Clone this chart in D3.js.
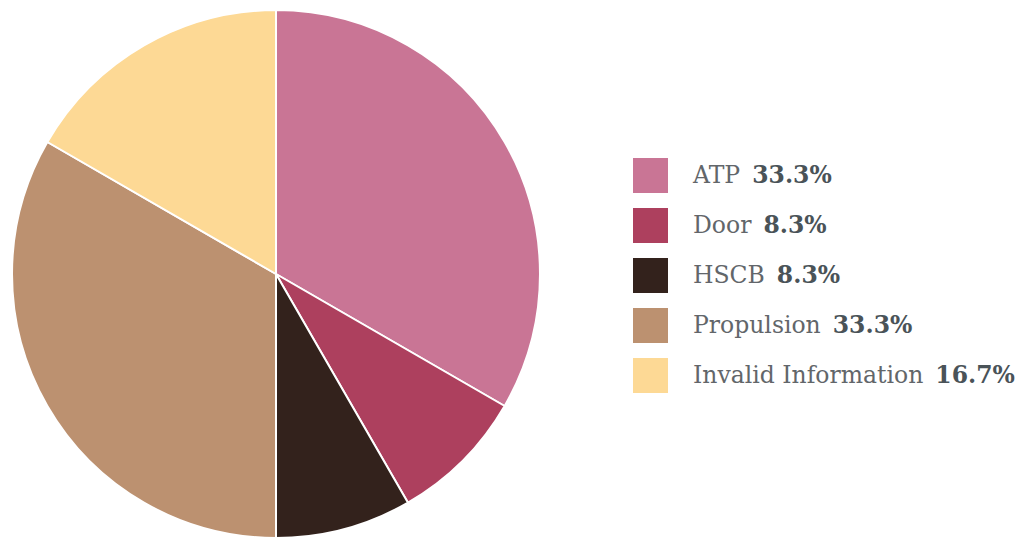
<!DOCTYPE html>
<html><head><meta charset="utf-8">
<script src="https://cdn.jsdelivr.net/npm/d3@7"></script>
<style>html,body{margin:0;padding:0;background:#fff;overflow:hidden}</style>
</head><body><svg id="c" width="1021" height="537"></svg>
<script>
const categories = ["ATP", "Door", "HSCB", "Propulsion", "Invalid Information"];
const values = [4, 1, 1, 4, 2];
const colors = ["#c97595", "#ad405e", "#33221c", "#bc9170", "#fdd995"];

const svg = d3.select("#c");
const cx = 276, cy = 274, r = 264;
const total = d3.sum(values);
const pie = d3.pie().sort(null).value(d => d.v);
const data = categories.map((c, i) => ({c, v: values[i], col: colors[i]}));
const arc = d3.arc().innerRadius(0).outerRadius(r);
svg.append("g").attr("transform", `translate(${cx},${cy})`)
  .selectAll("path").data(pie(data)).join("path")
  .attr("d", arc).attr("fill", d => d.data.col)
  .attr("stroke", "#fff").attr("stroke-width", 2).attr("stroke-linejoin", "round");

const fmt = v => (v / total * 100).toFixed(1) + "%";
const lg = svg.append("g").attr("transform", "translate(633,158)");
const rows = lg.selectAll("g").data(data).join("g")
  .attr("transform", (d, i) => `translate(0,${i * 50})`);
rows.append("rect").attr("width", 35).attr("height", 35).attr("fill", d => d.col);
const t = rows.append("text").attr("x", 60).attr("y", 25)
  .attr("font-family", "DejaVu Serif").attr("font-size", 23.5);
t.append("tspan").attr("fill", "#62666a").text(d => d.c);
t.append("tspan").attr("dx", 12).attr("fill", "#4a5358").attr("font-weight", "bold")
  .text(d => fmt(d.v));
</script></body></html>
